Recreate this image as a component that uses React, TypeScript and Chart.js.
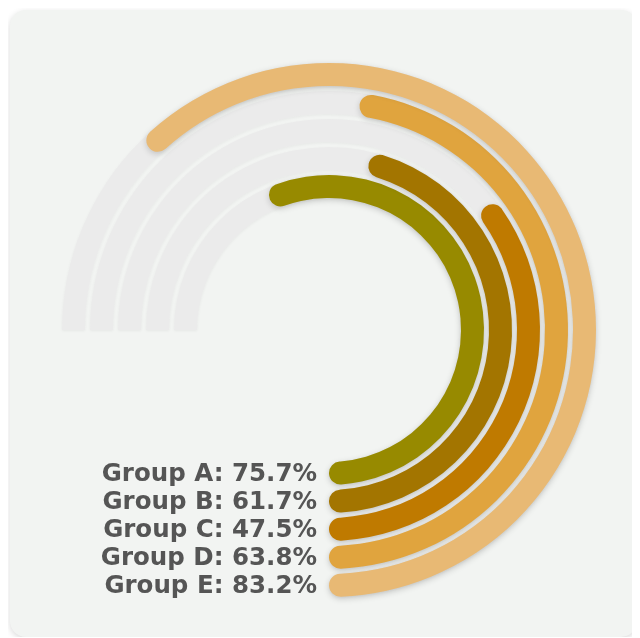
import React, { useEffect, useRef } from 'react';
import { Chart, registerables } from 'chart.js';

Chart.register(...registerables);

// ---- data ----
const groups = ['Group A', 'Group B', 'Group C', 'Group D', 'Group E'];
const values = [75.7, 61.7, 47.5, 63.8, 83.2];
const colors = ['#978A00', '#A37500', '#BF7A00', '#E0A43E', '#E8B974'];
const TRACK = '#EBEBEB';

// ---- layout ----
const CARD = 627;
const RING = 23;
const GAP = 5;
const CUTOUT = 132;
const PAD = { left: 52, right: 41, top: 53, bottom: 40 };

function buildDatasets(kind: 'track' | 'value') {
  const ds: any[] = [];
  for (let k = groups.length - 1; k >= 0; k--) {
    const v = values[k];
    if (kind === 'track') {
      ds.push({
        data: [100],
        backgroundColor: [TRACK],
        weight: RING,
        borderWidth: 0,
        borderRadius: { outerStart: 0, innerStart: 0, outerEnd: 12, innerEnd: 12 },
        groupIndex: k,
      });
    } else {
      ds.push({
        data: [100 - v, v],
        backgroundColor: ['rgba(0,0,0,0)', colors[k]],
        weight: RING,
        borderWidth: 0,
        borderRadius: 12,
        groupIndex: k,
      });
    }
    if (k > 0) {
      ds.push({ data: [100], backgroundColor: ['rgba(0,0,0,0)'], weight: GAP, borderWidth: 0, groupIndex: -1 });
    }
  }
  return ds;
}

const shadowPlugin = (color: string, blur: number, offY: number) => ({
  id: 'shadow',
  beforeDatasetsDraw(chart: any) {
    const ctx = chart.ctx;
    ctx.save();
    ctx.shadowColor = color;
    ctx.shadowBlur = blur;
    ctx.shadowOffsetX = 0;
    ctx.shadowOffsetY = offY;
  },
  afterDatasetsDraw(chart: any) {
    chart.ctx.restore();
  },
});

const labelPlugin = {
  id: 'ringLabels',
  afterDraw(chart: any) {
    const ctx = chart.ctx;
    ctx.save();
    ctx.font = 'bold 24.5px "DejaVu Sans", Verdana, sans-serif';
    ctx.fillStyle = '#555555';
    ctx.textAlign = 'right';
    ctx.textBaseline = 'middle';
    chart.data.datasets.forEach((d: any, i: number) => {
      if (d.groupIndex < 0) return;
      const arc = chart.getDatasetMeta(i).data[1];
      if (!arc) return;
      const { x, y, innerRadius, outerRadius } = arc.getProps(['x', 'y', 'innerRadius', 'outerRadius'], true);
      const k = d.groupIndex;
      ctx.fillText(`${groups[k]}: ${values[k].toFixed(1)}%`, x - 12, y + (innerRadius + outerRadius) / 2 + 1);
    });
    ctx.restore();
  },
};

function makeConfig(kind: 'track' | 'value'): any {
  return {
    type: 'doughnut',
    data: { labels: ['rest', 'value'], datasets: buildDatasets(kind) },
    options: {
      responsive: false,
      animation: false,
      events: [],
      rotation: -90,
      circumference: 270,
      cutout: CUTOUT,
      layout: { padding: PAD },
      plugins: { legend: { display: false }, tooltip: { enabled: false } },
    },
    plugins:
      kind === 'track'
        ? [shadowPlugin('rgba(0,0,0,0.05)', 3, 1)]
        : [shadowPlugin('rgba(0,0,0,0.18)', 6, 2), labelPlugin],
  };
}

export default function App() {
  const trackRef = useRef<HTMLCanvasElement>(null);
  const valueRef = useRef<HTMLCanvasElement>(null);

  useEffect(() => {
    const c1 = new Chart(trackRef.current as HTMLCanvasElement, makeConfig('track'));
    const c2 = new Chart(valueRef.current as HTMLCanvasElement, makeConfig('value'));
    return () => {
      c1.destroy();
      c2.destroy();
    };
  }, []);

  const canvasStyle: React.CSSProperties = { position: 'absolute', left: 0, top: 0, width: CARD, height: CARD };

  return (
    <div style={{ padding: '2px 0 0 2px' }}>
      <div
        style={{
          position: 'relative',
          width: CARD,
          height: CARD,
          borderRadius: 16,
          background: '#F2F4F2',
          boxShadow: '0 2px 6px rgba(0,0,0,0.15)',
          overflow: 'hidden',
        }}
      >
        <canvas ref={trackRef} width={CARD} height={CARD} style={canvasStyle} />
        <canvas ref={valueRef} width={CARD} height={CARD} style={canvasStyle} />
      </div>
    </div>
  );
}
